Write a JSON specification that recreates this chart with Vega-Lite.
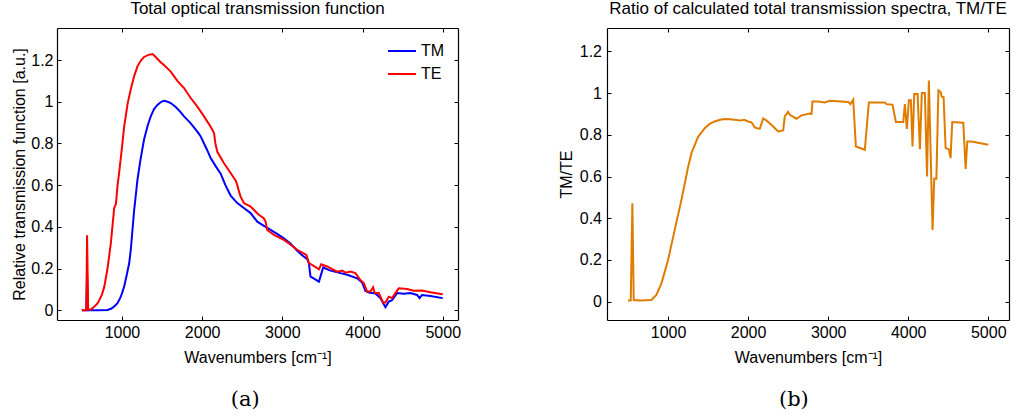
{
  "$schema": "https://vega.github.io/schema/vega-lite/v6.json",
  "background": "white",
  "padding": {"left": 11, "top": -1, "right": 5, "bottom": 5},
  "datasets": {
    "trans": [
      {"wn":500,"value":0,"mode":"TM"},{"wn":555,"value":0,"mode":"TM"},{"wn":565,"value":0.17,"mode":"TM"},{"wn":578,"value":0,"mode":"TM"},{"wn":700,"value":0,"mode":"TM"},{"wn":820,"value":0.001,"mode":"TM"},{"wn":870,"value":0.008,"mode":"TM"},{"wn":910,"value":0.02,"mode":"TM"},{"wn":944,"value":0.034,"mode":"TM"},{"wn":980,"value":0.06,"mode":"TM"},{"wn":1000,"value":0.08,"mode":"TM"},{"wn":1027,"value":0.113,"mode":"TM"},{"wn":1060,"value":0.17,"mode":"TM"},{"wn":1090,"value":0.225,"mode":"TM"},{"wn":1110,"value":0.29,"mode":"TM"},{"wn":1131,"value":0.385,"mode":"TM"},{"wn":1152,"value":0.48,"mode":"TM"},{"wn":1172,"value":0.55,"mode":"TM"},{"wn":1193,"value":0.625,"mode":"TM"},{"wn":1230,"value":0.72,"mode":"TM"},{"wn":1276,"value":0.82,"mode":"TM"},{"wn":1320,"value":0.885,"mode":"TM"},{"wn":1359,"value":0.93,"mode":"TM"},{"wn":1400,"value":0.965,"mode":"TM"},{"wn":1442,"value":0.985,"mode":"TM"},{"wn":1490,"value":1.0,"mode":"TM"},{"wn":1525,"value":1.005,"mode":"TM"},{"wn":1570,"value":1.0,"mode":"TM"},{"wn":1608,"value":0.994,"mode":"TM"},{"wn":1670,"value":0.975,"mode":"TM"},{"wn":1720,"value":0.955,"mode":"TM"},{"wn":1774,"value":0.93,"mode":"TM"},{"wn":1860,"value":0.895,"mode":"TM"},{"wn":1940,"value":0.857,"mode":"TM"},{"wn":1980,"value":0.835,"mode":"TM"},{"wn":2023,"value":0.8,"mode":"TM"},{"wn":2060,"value":0.77,"mode":"TM"},{"wn":2106,"value":0.73,"mode":"TM"},{"wn":2170,"value":0.69,"mode":"TM"},{"wn":2231,"value":0.655,"mode":"TM"},{"wn":2290,"value":0.6,"mode":"TM"},{"wn":2355,"value":0.55,"mode":"TM"},{"wn":2438,"value":0.514,"mode":"TM"},{"wn":2520,"value":0.49,"mode":"TM"},{"wn":2604,"value":0.466,"mode":"TM"},{"wn":2687,"value":0.425,"mode":"TM"},{"wn":2770,"value":0.405,"mode":"TM"},{"wn":2853,"value":0.385,"mode":"TM"},{"wn":2940,"value":0.365,"mode":"TM"},{"wn":3019,"value":0.345,"mode":"TM"},{"wn":3100,"value":0.32,"mode":"TM"},{"wn":3185,"value":0.285,"mode":"TM"},{"wn":3250,"value":0.262,"mode":"TM"},{"wn":3310,"value":0.245,"mode":"TM"},{"wn":3331,"value":0.225,"mode":"TM"},{"wn":3351,"value":0.161,"mode":"TM"},{"wn":3400,"value":0.15,"mode":"TM"},{"wn":3456,"value":0.137,"mode":"TM"},{"wn":3509,"value":0.205,"mode":"TM"},{"wn":3600,"value":0.19,"mode":"TM"},{"wn":3724,"value":0.178,"mode":"TM"},{"wn":3808,"value":0.17,"mode":"TM"},{"wn":3932,"value":0.153,"mode":"TM"},{"wn":3994,"value":0.133,"mode":"TM"},{"wn":4035,"value":0.093,"mode":"TM"},{"wn":4077,"value":0.085,"mode":"TM"},{"wn":4160,"value":0.08,"mode":"TM"},{"wn":4222,"value":0.058,"mode":"TM"},{"wn":4256,"value":0.035,"mode":"TM"},{"wn":4285,"value":0.014,"mode":"TM"},{"wn":4327,"value":0.041,"mode":"TM"},{"wn":4368,"value":0.048,"mode":"TM"},{"wn":4430,"value":0.082,"mode":"TM"},{"wn":4513,"value":0.079,"mode":"TM"},{"wn":4596,"value":0.082,"mode":"TM"},{"wn":4679,"value":0.073,"mode":"TM"},{"wn":4711,"value":0.058,"mode":"TM"},{"wn":4741,"value":0.073,"mode":"TM"},{"wn":4845,"value":0.068,"mode":"TM"},{"wn":5000,"value":0.058,"mode":"TM"},
      {"wn":500,"value":0,"mode":"TE"},{"wn":555,"value":0,"mode":"TE"},{"wn":565,"value":0.36,"mode":"TE"},{"wn":578,"value":0.005,"mode":"TE"},{"wn":610,"value":0.003,"mode":"TE"},{"wn":650,"value":0.015,"mode":"TE"},{"wn":700,"value":0.035,"mode":"TE"},{"wn":750,"value":0.075,"mode":"TE"},{"wn":780,"value":0.113,"mode":"TE"},{"wn":820,"value":0.2,"mode":"TE"},{"wn":861,"value":0.32,"mode":"TE"},{"wn":903,"value":0.49,"mode":"TE"},{"wn":925,"value":0.51,"mode":"TE"},{"wn":945,"value":0.6,"mode":"TE"},{"wn":965,"value":0.66,"mode":"TE"},{"wn":1000,"value":0.78,"mode":"TE"},{"wn":1027,"value":0.88,"mode":"TE"},{"wn":1070,"value":0.99,"mode":"TE"},{"wn":1110,"value":1.06,"mode":"TE"},{"wn":1150,"value":1.12,"mode":"TE"},{"wn":1193,"value":1.17,"mode":"TE"},{"wn":1240,"value":1.2,"mode":"TE"},{"wn":1276,"value":1.215,"mode":"TE"},{"wn":1330,"value":1.225,"mode":"TE"},{"wn":1382,"value":1.229,"mode":"TE"},{"wn":1420,"value":1.215,"mode":"TE"},{"wn":1483,"value":1.19,"mode":"TE"},{"wn":1540,"value":1.17,"mode":"TE"},{"wn":1608,"value":1.145,"mode":"TE"},{"wn":1691,"value":1.1,"mode":"TE"},{"wn":1774,"value":1.066,"mode":"TE"},{"wn":1857,"value":1.018,"mode":"TE"},{"wn":1940,"value":0.977,"mode":"TE"},{"wn":2023,"value":0.93,"mode":"TE"},{"wn":2106,"value":0.88,"mode":"TE"},{"wn":2148,"value":0.85,"mode":"TE"},{"wn":2165,"value":0.8,"mode":"TE"},{"wn":2189,"value":0.76,"mode":"TE"},{"wn":2272,"value":0.705,"mode":"TE"},{"wn":2355,"value":0.658,"mode":"TE"},{"wn":2420,"value":0.62,"mode":"TE"},{"wn":2438,"value":0.6,"mode":"TE"},{"wn":2459,"value":0.57,"mode":"TE"},{"wn":2479,"value":0.545,"mode":"TE"},{"wn":2521,"value":0.514,"mode":"TE"},{"wn":2604,"value":0.497,"mode":"TE"},{"wn":2700,"value":0.46,"mode":"TE"},{"wn":2770,"value":0.44,"mode":"TE"},{"wn":2790,"value":0.425,"mode":"TE"},{"wn":2811,"value":0.385,"mode":"TE"},{"wn":2900,"value":0.36,"mode":"TE"},{"wn":3019,"value":0.337,"mode":"TE"},{"wn":3100,"value":0.315,"mode":"TE"},{"wn":3185,"value":0.29,"mode":"TE"},{"wn":3268,"value":0.272,"mode":"TE"},{"wn":3300,"value":0.265,"mode":"TE"},{"wn":3331,"value":0.226,"mode":"TE"},{"wn":3400,"value":0.21,"mode":"TE"},{"wn":3456,"value":0.196,"mode":"TE"},{"wn":3484,"value":0.22,"mode":"TE"},{"wn":3559,"value":0.21,"mode":"TE"},{"wn":3683,"value":0.185,"mode":"TE"},{"wn":3745,"value":0.19,"mode":"TE"},{"wn":3787,"value":0.18,"mode":"TE"},{"wn":3849,"value":0.185,"mode":"TE"},{"wn":3911,"value":0.178,"mode":"TE"},{"wn":3973,"value":0.145,"mode":"TE"},{"wn":4015,"value":0.13,"mode":"TE"},{"wn":4056,"value":0.09,"mode":"TE"},{"wn":4098,"value":0.09,"mode":"TE"},{"wn":4131,"value":0.11,"mode":"TE"},{"wn":4152,"value":0.082,"mode":"TE"},{"wn":4202,"value":0.082,"mode":"TE"},{"wn":4256,"value":0.037,"mode":"TE"},{"wn":4285,"value":0.037,"mode":"TE"},{"wn":4327,"value":0.065,"mode":"TE"},{"wn":4368,"value":0.058,"mode":"TE"},{"wn":4409,"value":0.082,"mode":"TE"},{"wn":4451,"value":0.105,"mode":"TE"},{"wn":4555,"value":0.102,"mode":"TE"},{"wn":4638,"value":0.093,"mode":"TE"},{"wn":4741,"value":0.094,"mode":"TE"},{"wn":4845,"value":0.086,"mode":"TE"},{"wn":5000,"value":0.077,"mode":"TE"}
    ],
    "ratio": [
      {"wn":500,"ratio":0.005},{"wn":534,"ratio":0.005},{"wn":554,"ratio":0.472},{"wn":571,"ratio":0.008},{"wn":650,"ratio":0.006},{"wn":792,"ratio":0.008},{"wn":854,"ratio":0.032},{"wn":917,"ratio":0.088},{"wn":1000,"ratio":0.2},{"wn":1083,"ratio":0.344},{"wn":1167,"ratio":0.488},{"wn":1208,"ratio":0.565},{"wn":1250,"ratio":0.645},{"wn":1292,"ratio":0.712},{"wn":1375,"ratio":0.79},{"wn":1458,"ratio":0.832},{"wn":1520,"ratio":0.852},{"wn":1583,"ratio":0.864},{"wn":1650,"ratio":0.872},{"wn":1708,"ratio":0.876},{"wn":1770,"ratio":0.874},{"wn":1833,"ratio":0.872},{"wn":1900,"ratio":0.868},{"wn":1950,"ratio":0.872},{"wn":2000,"ratio":0.864},{"wn":2042,"ratio":0.86},{"wn":2083,"ratio":0.835},{"wn":2125,"ratio":0.83},{"wn":2146,"ratio":0.829},{"wn":2188,"ratio":0.878},{"wn":2229,"ratio":0.869},{"wn":2313,"ratio":0.84},{"wn":2375,"ratio":0.816},{"wn":2438,"ratio":0.821},{"wn":2458,"ratio":0.888},{"wn":2500,"ratio":0.91},{"wn":2521,"ratio":0.896},{"wn":2604,"ratio":0.877},{"wn":2667,"ratio":0.893},{"wn":2771,"ratio":0.902},{"wn":2792,"ratio":0.9},{"wn":2804,"ratio":0.96},{"wn":2875,"ratio":0.96},{"wn":2958,"ratio":0.955},{"wn":3021,"ratio":0.963},{"wn":3250,"ratio":0.957},{"wn":3279,"ratio":0.947},{"wn":3313,"ratio":0.968},{"wn":3346,"ratio":0.744},{"wn":3458,"ratio":0.728},{"wn":3508,"ratio":0.955},{"wn":3708,"ratio":0.955},{"wn":3729,"ratio":0.947},{"wn":3804,"ratio":0.944},{"wn":3846,"ratio":0.861},{"wn":3938,"ratio":0.861},{"wn":3958,"ratio":0.947},{"wn":3983,"ratio":0.828},{"wn":4008,"ratio":0.965},{"wn":4033,"ratio":0.965},{"wn":4054,"ratio":0.744},{"wn":4075,"ratio":0.995},{"wn":4117,"ratio":0.995},{"wn":4146,"ratio":0.731},{"wn":4170,"ratio":1.0},{"wn":4208,"ratio":1.0},{"wn":4235,"ratio":0.6},{"wn":4258,"ratio":1.06},{"wn":4304,"ratio":0.344},{"wn":4325,"ratio":0.589},{"wn":4352,"ratio":0.589},{"wn":4377,"ratio":1.013},{"wn":4406,"ratio":1.005},{"wn":4417,"ratio":0.984},{"wn":4442,"ratio":0.98},{"wn":4467,"ratio":0.736},{"wn":4508,"ratio":0.73},{"wn":4529,"ratio":0.688},{"wn":4550,"ratio":0.861},{"wn":4688,"ratio":0.858},{"wn":4717,"ratio":0.636},{"wn":4738,"ratio":0.768},{"wn":4792,"ratio":0.768},{"wn":5000,"ratio":0.752}
    ]
  },
  "hconcat": [
    {
      "title": {"text": "(a)", "orient": "bottom", "anchor": "middle", "font": "DejaVu Serif", "fontSize": 21, "fontWeight": "normal", "offset": 24, "dx": 9},
      "vconcat": [
        {
          "width": 401,
          "height": 292,
          "title": {"text": "Total optical transmission function", "frame": "group", "offset": 10},
          "data": {"name": "trans"},
          "layer": [
            {
              "mark": {"type": "line", "strokeWidth": 2, "clip": true},
              "encoding": {
                "x": {"field": "wn", "type": "quantitative", "scale": {"domain": [190, 5190], "nice": false, "zero": false},
                      "axis": {"orient": "bottom", "values": [1000, 2000, 3000, 4000, 5000], "format": "d", "title": "Wavenumbers [cm⁻¹]", "titlePadding": 9}},
                "y": {"field": "value", "type": "quantitative", "scale": {"domain": [-0.047, 1.354], "nice": false, "zero": false},
                      "axis": {"orient": "left", "values": [0, 0.2, 0.4, 0.6, 0.8, 1, 1.2], "format": "~g", "title": "Relative transmission function [a.u.]", "titlePadding": 3}},
                "color": {"field": "mode", "type": "nominal", "scale": {"domain": ["TM", "TE"], "range": ["#0000ff", "#ff0000"]},
                          "legend": {"title": null, "orient": "none", "legendX": 330, "legendY": 8, "symbolType": "stroke", "symbolSize": 784, "symbolStrokeWidth": 2, "labelFontSize": 16, "labelColor": "#000", "labelOffset": 4, "rowPadding": -7, "padding": 0}}
              }
            },
            {
              "mark": {"type": "line", "opacity": 0},
              "encoding": {
                "x": {"field": "wn", "type": "quantitative", "axis": {"orient": "top", "values": [1000, 2000, 3000, 4000, 5000], "labels": false, "title": null}},
                "y": {"field": "value", "type": "quantitative", "axis": {"orient": "right", "values": [0, 0.2, 0.4, 0.6, 0.8, 1, 1.2], "labels": false, "title": null}}
              }
            }
          ],
          "resolve": {"axis": {"x": "independent", "y": "independent"}}
        }
      ]
    },
    {
      "title": {"text": "(b)", "orient": "bottom", "anchor": "middle", "font": "DejaVu Serif", "fontSize": 21, "fontWeight": "normal", "offset": 24, "dx": 10},
      "vconcat": [
        {
          "width": 402,
          "height": 292,
          "title": {"text": "Ratio of calculated total transmission spectra, TM/TE", "frame": "group", "offset": 10},
          "data": {"name": "ratio"},
          "layer": [
            {
              "mark": {"type": "line", "strokeWidth": 2, "color": "#df7c00", "clip": true},
              "encoding": {
                "x": {"field": "wn", "type": "quantitative", "scale": {"domain": [237, 5259], "nice": false, "zero": false},
                      "axis": {"orient": "bottom", "values": [1000, 2000, 3000, 4000, 5000], "format": "d", "title": "Wavenumbers [cm⁻¹]", "titlePadding": 9}},
                "y": {"field": "ratio", "type": "quantitative", "scale": {"domain": [-0.088, 1.312], "nice": false, "zero": false},
                      "axis": {"orient": "left", "values": [0, 0.2, 0.4, 0.6, 0.8, 1, 1.2], "format": "~g", "title": "TM/TE", "titlePadding": 5, "labelPadding": 9.5}}
              }
            },
            {
              "mark": {"type": "line", "opacity": 0},
              "encoding": {
                "x": {"field": "wn", "type": "quantitative", "axis": {"orient": "top", "values": [1000, 2000, 3000, 4000, 5000], "labels": false, "title": null}},
                "y": {"field": "ratio", "type": "quantitative", "axis": {"orient": "right", "values": [0, 0.2, 0.4, 0.6, 0.8, 1, 1.2], "labels": false, "title": null}}
              }
            }
          ],
          "resolve": {"axis": {"x": "independent", "y": "independent"}}
        }
      ]
    }
  ],
  "spacing": 97,
  "config": {
    "font": "Liberation Sans",
    "view": {"stroke": null},
    "axis": {"grid": false, "domainColor": "#000", "domainWidth": 1.2, "tickColor": "#000", "tickSize": -4, "tickWidth": 1, "labelPadding": 8, "labelFontSize": 16, "labelColor": "#000", "labelFont": "Liberation Sans", "titleFont": "Liberation Sans", "titleFontSize": 16, "titleFontWeight": "normal", "titleColor": "#000", "titlePadding": 6},
    "title": {"fontSize": 17, "fontWeight": "normal", "font": "Liberation Sans", "color": "#000"},
    "legend": {"labelFont": "Liberation Sans"}
  }
}
